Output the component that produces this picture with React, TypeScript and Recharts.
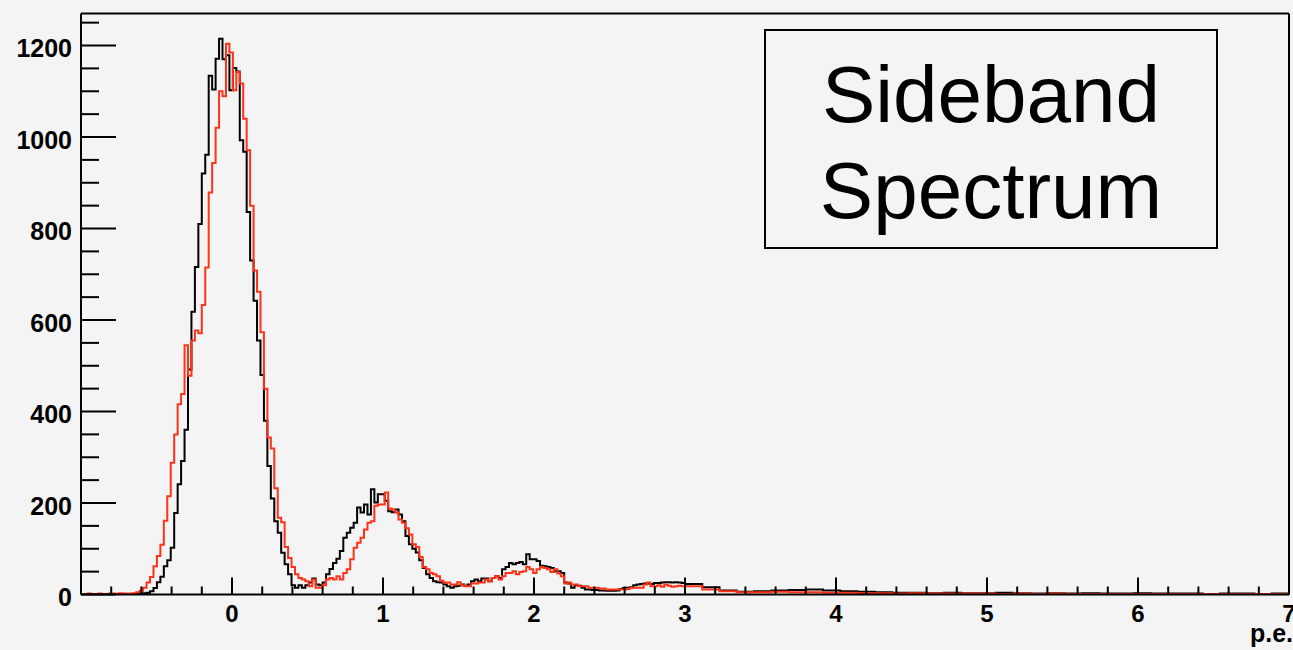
import { LineChart, Line, XAxis, YAxis, ReferenceLine } from 'recharts';

// histogram binning (8 / 350 p.e. per bin), fine bins up to ~3 p.e., then grouped tail bins
const BIN = 8 / 350;
const X_MIN = -1;
const X_MAX = 7;
const Y_MAX = 1270;
const TAIL_START = 175;
const TAIL_GROUP = 5;

const blackCounts = [
  0, 0, 0, 0, 0, 0, 0, 0, 0, 0,
  0, 0, 1, 0, 1, 1, 2, 2, 3, 4,
  7, 14, 27, 39, 62, 75, 102, 178, 241, 292,
  360, 492, 618, 716, 810, 920, 961, 1134, 1104, 1171,
  1215, 1170, 1179, 1102, 1151, 1143, 993, 968, 836, 730,
  642, 555, 480, 380, 281, 210, 160, 135, 91, 66,
  44, 20, 15, 20, 15, 20, 26, 35, 22, 20,
  26, 44, 56, 69, 78, 95, 124, 135, 146, 157,
  190, 179, 197, 175, 230, 201, 219, 219, 205, 182,
  180, 186, 175, 160, 128, 110, 100, 92, 75, 58,
  44, 36, 29, 27, 26, 22, 18, 15, 18, 19,
  22, 19, 22, 29, 33, 29, 35, 35, 29, 36,
  40, 36, 55, 60, 69, 66, 69, 71, 66, 88,
  77, 77, 73, 63, 62, 60, 58, 51, 51, 47,
  26, 24, 15, 20, 19, 15, 11, 11, 10, 10,
  9, 9, 8, 8, 8, 9, 12, 14, 15, 16,
  20, 22, 23, 24, 24, 23, 25, 25, 26, 27,
  27, 26, 27, 26, 25,
];

const redCounts = [
  1, 1, 2, 1, 1, 2, 1, 1, 2, 2,
  1, 3, 2, 2, 2, 3, 5, 8, 15, 26,
  38, 62, 84, 109, 161, 215, 288, 350, 416, 438,
  545, 478, 555, 577, 571, 633, 715, 879, 943, 1020,
  1100, 1089, 1204, 1185, 1102, 1142, 1117, 1040, 971, 850,
  708, 662, 573, 450, 343, 319, 232, 168, 158, 104,
  80, 60, 44, 36, 33, 29, 18, 33, 15, 15,
  20, 33, 36, 33, 40, 33, 47, 55, 77, 102,
  113, 124, 142, 157, 160, 194, 197, 197, 223, 188,
  186, 179, 164, 157, 145, 131, 110, 104, 82, 60,
  55, 47, 44, 40, 30, 26, 26, 22, 22, 27,
  20, 18, 18, 24, 24, 26, 26, 33, 29, 36,
  40, 33, 40, 47, 47, 51, 44, 49, 51, 60,
  55, 47, 55, 60, 58, 55, 49, 55, 46, 40,
  24, 26, 22, 22, 18, 18, 18, 15, 15, 15,
  13, 13, 11, 11, 11, 11, 11, 11, 12, 15,
  15, 15, 15, 22, 26, 18, 18, 20, 17, 22,
  19, 17, 18, 19, 18,
];

const blackTail = [
  23, 16, 9, 6, 7, 9, 10, 11, 9, 7,
  6, 5, 4, 4, 3, 4, 3, 3, 4, 3,
  2, 3, 2, 3, 2, 2, 3, 2, 2, 2,
  1, 2, 2, 1, 2,
];

const redTail = [
  18, 11, 7, 5, 5, 6, 5, 5, 4, 4,
  3, 3, 2, 3, 2, 2, 2, 2, 1, 2,
  1, 2, 1, 1, 1, 1, 1, 1, 1, 1,
  1, 1, 1, 1, 1,
];

const xTicks = Array.from({ length: 41 }, (_, i) => Math.round((X_MIN + i * 0.2) * 10) / 10);
const yTicks = Array.from({ length: 26 }, (_, i) => i * 50);

const rows = [
  ...blackCounts.map((b, k) => ({ x: X_MIN + k * BIN, black: b, red: redCounts[k] })),
  ...blackTail.map((b, g) => ({
    x: X_MIN + (TAIL_START + g * TAIL_GROUP) * BIN,
    black: b,
    red: redTail[g],
  })),
  { x: X_MAX, black: blackTail[blackTail.length - 1], red: redTail[redTail.length - 1] },
];

const FONT = '"Liberation Sans", Arial, Helvetica, sans-serif';

const renderXTick = (props: any) => {
  const { x, y, payload } = props;
  const v = payload.value as number;
  const major = Math.abs(v - Math.round(v)) < 1e-6;
  return (
    <g>
      <line x1={x} x2={x} y1={y} y2={y - (major ? 17 : 8)} stroke="#000" strokeWidth={2} />
      {major && v > X_MIN && (
        <text x={x} y={y + 27.5} textAnchor="middle" fontFamily={FONT} fontWeight="bold" fontSize={24} fill="#000">
          {v}
        </text>
      )}
    </g>
  );
};

const renderYTick = (props: any) => {
  const { x, y, payload } = props;
  const v = payload.value as number;
  const major = v % 200 === 0;
  return (
    <g>
      <line x1={x} x2={x + (major ? 35 : 18)} y1={y} y2={y} stroke="#000" strokeWidth={2} />
      {major && (
        <text x={x - 9} y={y + 11.5} textAnchor="end" fontFamily={FONT} fontWeight="bold" fontSize={25} fill="#000">
          {v}
        </text>
      )}
    </g>
  );
};

const App = () => {
  return (
    <div
      style={{
        position: 'absolute',
        left: 0,
        top: 0,
        width: 1293,
        height: 650,
        background: '#f4f4f4',
        overflow: 'hidden',
      }}
    >
      <LineChart width={1293} height={650} data={rows} margin={{ top: 13.5, right: 4, bottom: 0, left: 0 }}>
        <XAxis
          type="number"
          dataKey="x"
          domain={[X_MIN, X_MAX]}
          ticks={xTicks}
          interval={0}
          height={55.5}
          tickSize={0}
          tickMargin={0}
          tickLine={false}
          axisLine={{ stroke: '#000', strokeWidth: 2 }}
          tick={renderXTick}
          allowDataOverflow
        />
        <YAxis
          type="number"
          domain={[0, Y_MAX]}
          ticks={yTicks}
          interval={0}
          width={81}
          tickSize={0}
          tickMargin={0}
          tickLine={false}
          axisLine={{ stroke: '#000', strokeWidth: 2 }}
          tick={renderYTick}
          allowDataOverflow
        />
        <ReferenceLine y={Y_MAX} stroke="#000" strokeWidth={2} />
        <ReferenceLine x={X_MAX} stroke="#000" strokeWidth={2} />
        <Line
          type="stepAfter"
          dataKey="black"
          stroke="#000"
          strokeWidth={2}
          dot={false}
          activeDot={false}
          isAnimationActive={false}
        />
        <Line
          type="stepAfter"
          dataKey="red"
          stroke="#ff3218"
          strokeWidth={2}
          dot={false}
          activeDot={false}
          isAnimationActive={false}
        />
      </LineChart>

      <svg width={1293} height={650} style={{ position: 'absolute', left: 0, top: 0, pointerEvents: 'none' }}>
        <rect x={765} y={30} width={452} height={218} fill="#f4f4f4" stroke="#000" strokeWidth={2} />
        <text x={991} y={122} textAnchor="middle" fontFamily={FONT} fontSize={80} fill="#000">
          Sideband
        </text>
        <text x={991} y={218} textAnchor="middle" fontFamily={FONT} fontSize={80} fill="#000">
          Spectrum
        </text>
        <text x={1293} y={642} textAnchor="end" fontFamily={FONT} fontWeight="bold" fontSize={25} fill="#000">
          p.e.
        </text>
      </svg>
    </div>
  );
};

export default App;
